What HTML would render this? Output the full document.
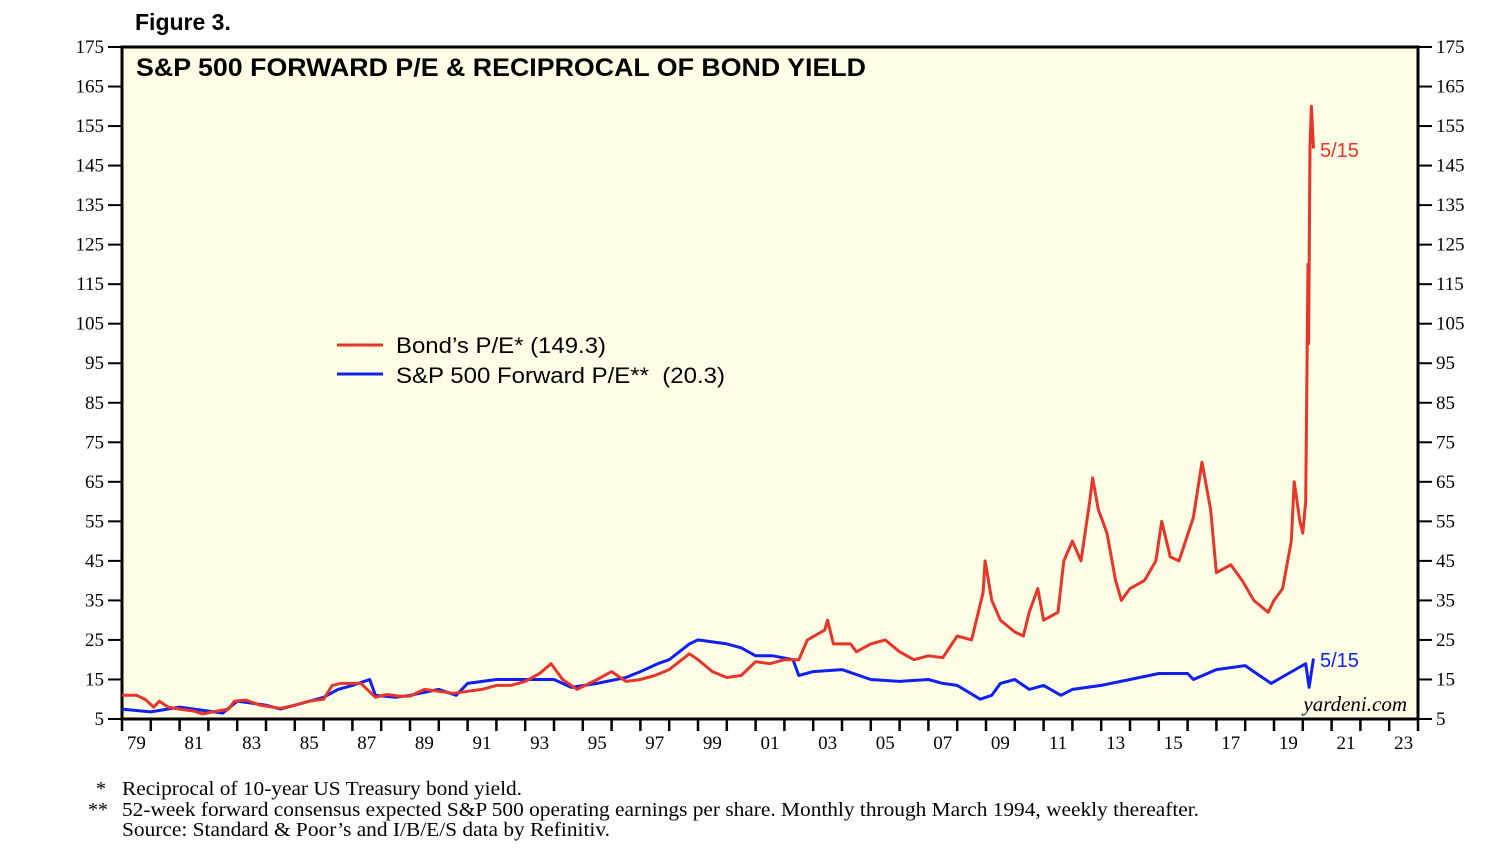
<!DOCTYPE html>
<html><head><meta charset="utf-8"><style>
body{margin:0;background:#fff;width:1494px;height:862px;overflow:hidden;font-family:"Liberation Sans",sans-serif}
svg{position:absolute;left:0;top:0}
</style></head><body>
<svg id="chart" width="1494" height="862" xmlns="http://www.w3.org/2000/svg">
<text x="135" y="30" font-family="Liberation Sans" font-weight="bold" font-size="23">Figure 3.</text>
<rect x="122" y="47" width="1296" height="672" fill="#fefee6" stroke="#000" stroke-width="3"/>
<text x="136" y="76" font-family="Liberation Sans" font-weight="bold" font-size="25" textLength="730" lengthAdjust="spacingAndGlyphs">S&amp;P 500 FORWARD P/E &amp; RECIPROCAL OF BOND YIELD</text>
<g id="axes"></g>
<g id="series"></g>
<g font-family="Liberation Sans" font-size="22">
<line x1="337" y1="345" x2="383" y2="345" stroke="#e8352a" stroke-width="3"/>
<text x="396" y="353" textLength="210" lengthAdjust="spacingAndGlyphs">Bond’s P/E* (149.3)</text>
<line x1="337" y1="374" x2="383" y2="374" stroke="#1020f0" stroke-width="3"/>
<text x="396" y="383" textLength="329" lengthAdjust="spacingAndGlyphs">S&amp;P 500 Forward P/E**&#160;&#160;(20.3)</text>
</g>
<text x="1320" y="157" fill="#e8352a" font-size="20" font-family="Liberation Sans">5/15</text>
<text x="1320" y="667" fill="#1020f0" font-size="20" font-family="Liberation Sans">5/15</text>
<text x="1407" y="711" text-anchor="end" font-family="Liberation Serif" font-style="italic" font-size="21">yardeni.com</text>
<g font-family="Liberation Serif" font-size="20">
<text x="96" y="795">*</text><text x="122" y="795" textLength="400" lengthAdjust="spacingAndGlyphs">Reciprocal of 10-year US Treasury bond yield.</text>
<text x="88" y="816">**</text><text x="122" y="816" textLength="1077" lengthAdjust="spacingAndGlyphs">52-week forward consensus expected S&amp;P 500 operating earnings per share. Monthly through March 1994, weekly thereafter.</text>
<text x="122" y="836" textLength="488" lengthAdjust="spacingAndGlyphs">Source: Standard &amp; Poor’s and I/B/E/S data by Refinitiv.</text>
</g>
</svg>
<script>
const yTicks=[5,15,25,35,45,55,65,75,85,95,105,115,125,135,145,155,165,175];
const xLabels=["79","81","83","85","87","89","91","93","95","97","99","01","03","05","07","09","11","13","15","17","19","21","23"];
const bondYears=[1979,1979.5,1979.8,1980.1,1980.3,1980.6,1981,1981.5,1981.8,1982.3,1982.7,1982.9,1983.3,1983.8,1984.5,1985,1985.5,1986,1986.3,1986.6,1987,1987.3,1987.8,1988.2,1988.6,1989,1989.5,1990,1990.5,1991,1991.5,1992,1992.5,1993,1993.5,1993.9,1994.3,1994.8,1995.5,1996,1996.5,1997,1997.5,1998,1998.7,1999,1999.5,2000,2000.5,2001,2001.5,2002,2002.5,2002.8,2003.4,2003.5,2003.7,2004.3,2004.5,2005,2005.5,2006,2006.5,2007,2007.5,2008,2008.5,2008.9,2008.97,2009.2,2009.5,2010,2010.3,2010.5,2010.8,2011,2011.5,2011.7,2012,2012.3,2012.6,2012.7,2012.9,2013.2,2013.5,2013.7,2014,2014.5,2014.9,2015.1,2015.4,2015.7,2016.2,2016.5,2016.8,2017,2017.5,2017.9,2018.3,2018.8,2019,2019.3,2019.6,2019.7,2019.9,2020,2020.1,2020.18,2020.2,2020.25,2020.3,2020.37];
const bondValues=[11,11,10,8,9.5,8,7.5,7,6.3,7,7.5,9.5,9.8,8.5,7.7,8.5,9.5,10,13.5,14,14,14,10.5,11.2,10.8,10.8,12.5,12,11.5,12,12.5,13.5,13.5,14.5,16.5,19,15,12.5,15,17,14.5,15,16,17.5,21.5,20,17,15.5,16,19.5,19,20,20,25,27.5,30,24,24,22,24,25,22,20,21,20.5,26,25,37,45,35,30,27,26,32,38,30,32,45,50,45,60,66,58,52,40,35,38,40,45,55,46,45,56,70,58,42,44,40,35,32,35,38,50,65,55,52,60,120,100,150,160,149.3];
const spYears=[1979,1980,1981,1982,1982.5,1983,1984,1984.5,1985,1986,1986.5,1987,1987.6,1987.8,1988.5,1989,1990,1990.6,1991,1992,1993,1994,1994.6,1995.5,1996.5,1997,1997.6,1998,1998.7,1999,2000,2000.5,2001,2001.6,2002.3,2002.5,2003,2004,2005,2006,2007,2007.5,2008,2008.8,2009.2,2009.5,2010,2010.5,2011,2011.6,2012,2013,2014,2015,2016,2016.2,2017,2018,2018.3,2018.9,2019.5,2020.1,2020.22,2020.37];
const spValues=[7.5,6.8,8,7,6.5,9.5,8.5,7.5,8.5,10.5,12.5,13.5,15,11,10.5,11,12.5,11,14,15,15,15,13,14,15.5,17,19,20,24,25,24,23,21,21,20,16,17,17.5,15,14.5,15,14,13.5,10,11,14,15,12.5,13.5,11,12.5,13.5,15,16.5,16.5,15,17.5,18.5,17,14,16.5,19,13,20.3];
const NS="http://www.w3.org/2000/svg";
const L=122,R=1418,T=47,B=719;
function xs(t){return L+(t-1979)*(R-L)/45;}
function ys(v){return B-(v-5)*(B-T)/170;}
const axes=document.getElementById('axes');
function mk(tag,attrs,parent){const e=document.createElementNS(NS,tag);for(const k in attrs)e.setAttribute(k,attrs[k]);parent.appendChild(e);return e;}
yTicks.forEach(v=>{
  const y=ys(v);
  mk('line',{x1:L-14,y1:y,x2:L,y2:y,stroke:'#000','stroke-width':2},axes);
  mk('line',{x1:R,y1:y,x2:R+14,y2:y,stroke:'#000','stroke-width':2},axes);
  const a=mk('text',{x:L-18,y:y+6,'text-anchor':'end','font-family':'Liberation Serif','font-size':19},axes);a.textContent=v;
  
  
  const b=mk('text',{x:R+18,y:y+6,'font-family':'Liberation Serif','font-size':19},axes);b.textContent=v;
  
  
});
for(let yr=1979;yr<=2024;yr++){mk('line',{x1:xs(yr),y1:B,x2:xs(yr),y2:B+12,stroke:'#000','stroke-width':2.5},axes);}
xLabels.forEach((s,i)=>{
  const yr=1979+2*i;
  const t=mk('text',{x:xs(yr+0.5),y:B+30,'text-anchor':'middle','font-family':'Liberation Serif','font-size':19},axes);t.textContent=s;
  
  
});
const ser=document.getElementById('series');
function line(xsArr,vals,color,name){
  const d=xsArr.map((t,i)=>(i?'L':'M')+xs(t).toFixed(1)+','+ys(vals[i]).toFixed(1)).join('');
  const p=mk('path',{d:d,fill:'none',stroke:color,'stroke-width':3,'stroke-linejoin':'round'},ser);
  
  
}
line(spYears,spValues,'#1020f0','sp500-forward-pe-line');
line(bondYears,bondValues,'#e8352a','bond-pe-line');
</script>
</body></html>
